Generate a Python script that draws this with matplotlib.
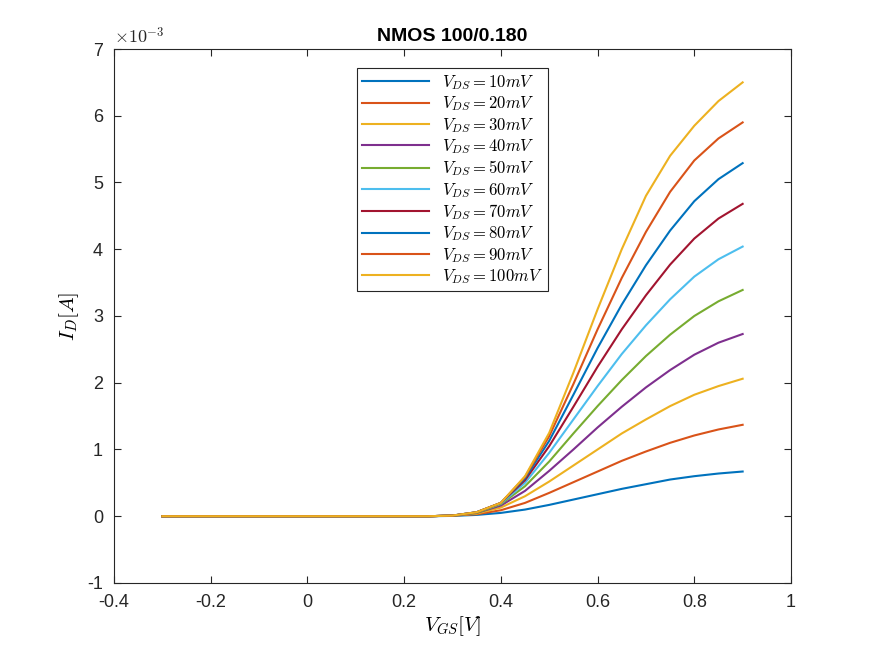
import numpy as np
import matplotlib.pyplot as plt

plt.rcParams['font.family'] = ['Liberation Sans', 'DejaVu Sans']
plt.rcParams['mathtext.fontset'] = 'cm'

# gate voltage sample points (V)
vgs = [-0.3, 0.2, 0.25, 0.3, 0.35, 0.4, 0.45, 0.5, 0.55, 0.6, 0.65, 0.7, 0.75, 0.8, 0.85, 0.9]

# drain current in mA
id_10  = [0, 0, 0, 0.005, 0.02, 0.05, 0.10, 0.17, 0.25, 0.33, 0.41, 0.48, 0.55, 0.60, 0.64, 0.67]
id_20  = [0, 0, 0, 0.01, 0.03, 0.09, 0.20, 0.35, 0.51, 0.67, 0.83, 0.97, 1.10, 1.21, 1.30, 1.37]
id_30  = [0, 0, 0, 0.01, 0.04, 0.13, 0.30, 0.52, 0.76, 1.00, 1.24, 1.45, 1.65, 1.82, 1.95, 2.06]
id_40  = [0, 0, 0, 0.01, 0.05, 0.16, 0.38, 0.68, 1.00, 1.33, 1.64, 1.93, 2.19, 2.42, 2.60, 2.73]
id_50  = [0, 0, 0, 0.01, 0.05, 0.18, 0.45, 0.82, 1.24, 1.65, 2.04, 2.40, 2.72, 3.00, 3.22, 3.39]
id_60  = [0, 0, 0, 0.01, 0.06, 0.19, 0.50, 0.95, 1.45, 1.95, 2.43, 2.86, 3.25, 3.59, 3.85, 4.04]
id_70  = [0, 0, 0, 0.01, 0.06, 0.20, 0.54, 1.05, 1.64, 2.24, 2.80, 3.31, 3.77, 4.16, 4.46, 4.68]
id_80  = [0, 0, 0, 0.01, 0.06, 0.20, 0.57, 1.13, 1.82, 2.52, 3.17, 3.76, 4.28, 4.72, 5.05, 5.29]
id_90  = [0, 0, 0, 0.01, 0.06, 0.20, 0.59, 1.20, 1.98, 2.80, 3.57, 4.26, 4.86, 5.33, 5.66, 5.90]
id_100 = [0, 0, 0, 0.01, 0.06, 0.20, 0.60, 1.25, 2.15, 3.10, 4.00, 4.80, 5.40, 5.85, 6.22, 6.50]

curves = [id_10, id_20, id_30, id_40, id_50, id_60, id_70, id_80, id_90, id_100]
vds_mv = [10, 20, 30, 40, 50, 60, 70, 80, 90, 100]

colors = ['#0072BD', '#D95319', '#EDB120', '#7E2F8E', '#77AC30',
          '#4DBEEE', '#A2142F']

fig = plt.figure(figsize=(8.75, 6.56), dpi=100)
ax = fig.add_axes([0.1303, 0.1113, 0.7737, 0.814])

for i, (cur, v) in enumerate(zip(curves, vds_mv)):
    ax.plot(vgs, np.array(cur) * 1e-3, color=colors[i % len(colors)], lw=1.5,
            label=r'$V_{DS} = %d mV$' % v)

ax.set_xlim(-0.4, 1)
ax.set_ylim(-1e-3, 7e-3)
ax.set_xticks(np.arange(-0.4, 1.01, 0.2))
ax.set_yticks(np.arange(-1e-3, 7.01e-3, 1e-3))
ax.text(0.0, 1.003, r'$\times 10^{-3}$', transform=ax.transAxes, fontsize=13,
        color='#262626', va='bottom')
ax.tick_params(direction='in', labelsize=13, colors='#262626', top=True, right=True,
               pad=8, length=5)
ax.set_xticklabels(['-0.4', '-0.2', '0', '0.2', '0.4', '0.6', '0.8', '1'])
ax.set_yticklabels(['-1', '0', '1', '2', '3', '4', '5', '6', '7'])
for s in ax.spines.values():
    s.set_color('#262626')
    s.set_linewidth(0.8)

ax.set_xlabel(r'$V_{GS} [V]$', fontsize=15, labelpad=2)
ax.set_ylabel(r'$I_D [A]$', fontsize=15)
ax.set_title('NMOS 100/0.180', fontsize=14, fontweight='bold')

leg = ax.legend(loc='upper center', bbox_to_anchor=(0.50, 0.98), fontsize=12,
                fancybox=False, framealpha=1, edgecolor='#262626',
                handlelength=4.0, labelspacing=0.15, borderpad=0.3)
leg.get_frame().set_linewidth(0.8)

fig.savefig('out.png', dpi=100)
